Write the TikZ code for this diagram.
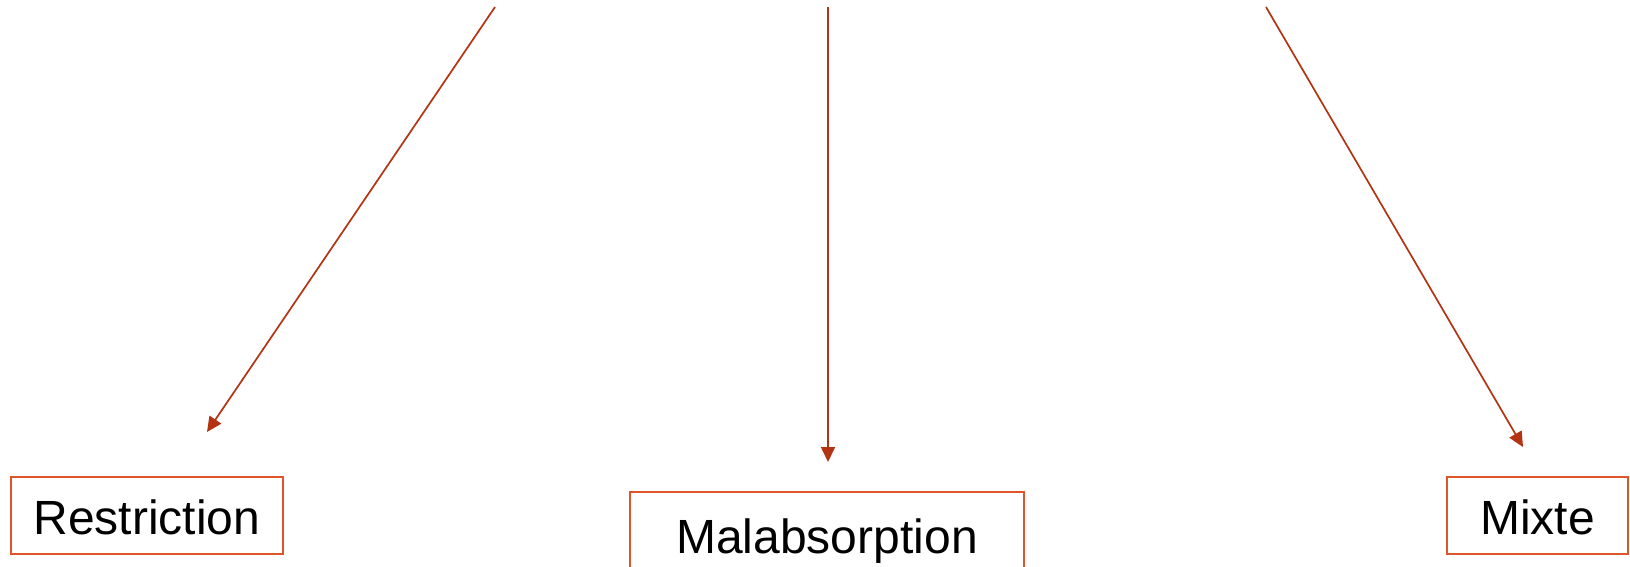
\documentclass[tikz,border=0pt]{standalone}
\usepackage{fontspec}
\setmainfont{Liberation Sans}
\usetikzlibrary{arrows.meta}
\definecolor{arrowred}{HTML}{B23412}
\definecolor{boxred}{HTML}{DD5528}
\tikzset{
  catbox/.style={draw=boxred, line width=1.8pt, inner sep=0pt,
    minimum height=77pt, text height=38pt, text depth=0pt,
    font=\fontsize{48}{52}\selectfont},
  branch/.style={draw=arrowred, line width=1.7pt,
    -{Triangle[length=15pt,width=14pt]}}
}
\begin{document}
\begin{tikzpicture}[x=1pt,y=-1pt]
\useasboundingbox (0,0) rectangle (1630,566);
\node[catbox, minimum width=272pt] (restr) at (147,515.5) {Restriction};
\node[catbox, minimum width=394pt, minimum height=84pt] (malab) at (827,534) {Malabsorption};
\node[catbox, minimum width=181pt] (mixte) at (1537.5,515.5) {Mixte};
\coordinate (srcL) at (495,7);
\coordinate (srcM) at (828,7);
\coordinate (srcR) at (1266,7);
\coordinate (tipL) at (207,432);
\coordinate (tipM) at (828,462);
\coordinate (tipR) at (1523,447);
\draw[branch] (srcL) -- (tipL);
\draw[branch] (srcM) -- (tipM);
\draw[branch] (srcR) -- (tipR);
\end{tikzpicture}
\end{document}
